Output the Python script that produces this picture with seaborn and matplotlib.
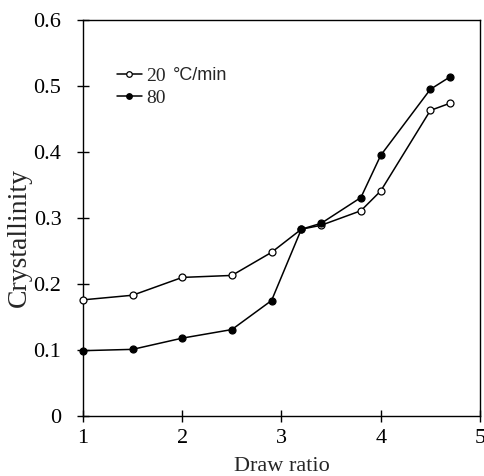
import matplotlib
matplotlib.use("Agg")
import matplotlib.pyplot as plt
import seaborn as sns
import pandas as pd

draw_ratio_20 = [1.0, 1.5, 2.0, 2.5, 2.9, 3.2, 3.4, 3.8, 4.0, 4.5, 4.7]
cryst_20 = [0.176, 0.183, 0.210, 0.213, 0.248, 0.283, 0.289, 0.311, 0.341, 0.463, 0.474]
draw_ratio_80 = [1.0, 1.5, 2.0, 2.5, 2.9, 3.2, 3.4, 3.8, 4.0, 4.5, 4.7]
cryst_80 = [0.099, 0.101, 0.118, 0.131, 0.175, 0.283, 0.292, 0.331, 0.395, 0.495, 0.514]
series_labels = ["20", "80"]
x_ticks = [1, 2, 3, 4, 5]
y_ticks = [0, 0.1, 0.2, 0.3, 0.4, 0.5, 0.6]
y_ticklabels = ["0", "0.1", "0.2", "0.3", "0.4", "0.5", "0.6"]

sns.set_style("white")
plt.rcParams["font.family"] = ["Liberation Serif", "DejaVu Serif"]

df = pd.DataFrame({
    "x": draw_ratio_20 + draw_ratio_80,
    "y": cryst_20 + cryst_80,
    "rate": [series_labels[0]] * len(draw_ratio_20) + [series_labels[1]] * len(draw_ratio_80),
})

fig = plt.figure(figsize=(4.84, 4.76), dpi=100)
ax = fig.add_axes([0.1715, 0.126, 0.9917 - 0.1715, 0.958 - 0.126])

face = {series_labels[0]: "white", series_labels[1]: "black"}
for lab in series_labels:
    sub = df[df["rate"] == lab]
    sns.lineplot(data=sub, x="x", y="y", ax=ax, color="black", linewidth=1.1,
                 marker="o", markersize=5, markerfacecolor=face[lab],
                 markeredgecolor="black", markeredgewidth=0.9, label=lab,
                 estimator=None, sort=False, clip_on=False, zorder=3)

ax.set_xlim(1, 5)
ax.set_ylim(0, 0.6)
ax.set_xticks(x_ticks)
ax.set_xticklabels([str(t) for t in x_ticks])
ax.set_yticks(y_ticks)
ax.set_yticklabels(y_ticklabels)
ax.tick_params(bottom=True, left=True, top=False, right=False,
               direction="inout", length=9, width=1.0, labelsize=16, colors="black")
ax.tick_params(axis="y", pad=11)
ax.tick_params(axis="x", pad=5)
for s in ax.spines.values():
    s.set_color("black")
    s.set_linewidth(1.0)

ax.set_xlabel("Draw ratio", fontsize=16, labelpad=6)
ax.set_ylabel("Crystallinity", fontsize=20)
ax.yaxis.set_label_coords(-0.128, 0.452)

leg = ax.legend(loc="upper left", bbox_to_anchor=(0.085, 0.880), frameon=False,
                fontsize=14, handlelength=1.3, handletextpad=0.2, labelspacing=0.22,
                borderaxespad=0, borderpad=0)
for h in leg.legend_handles:
    h.set_markersize(4)
ax.text(0.227, 0.861, "\u00b0C/min", transform=ax.transAxes, fontsize=13,
        family=["Liberation Sans", "DejaVu Sans"], va="center", ha="left")

fig.savefig("out.png", dpi=100)
